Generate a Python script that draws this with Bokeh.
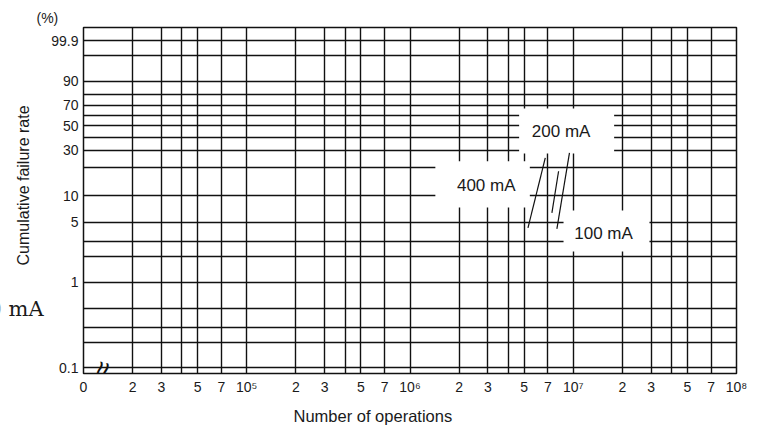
import math
from bokeh.plotting import figure
from bokeh.layouts import row
from bokeh.models import FixedTicker, Label, Title, ColumnDataSource
from bokeh.core.properties import value
from bokeh.embed import file_html
from bokeh.resources import INLINE

SANS = "Liberation Sans"
SERIF = "DejaVu Serif"
INK = "#111111"
TXT = "#1a1a1a"

# ---------------- data ----------------
x_ticks = [1e4, 2e4, 3e4, 4e4, 5e4, 7e4,
           1e5, 2e5, 3e5, 4e5, 5e5, 7e5,
           1e6, 2e6, 3e6, 4e6, 5e6, 7e6,
           1e7, 2e7, 3e7, 4e7, 5e7, 7e7,
           1e8]
x_labels = ["0", "2", "3", "", "5", "7",
            "10\u2075", "2", "3", "", "5", "7",
            "10\u2076", "2", "3", "", "5", "7",
            "10\u2077", "2", "3", "", "5", "7",
            "10\u2078"]

y_ticks_pct = [0.1, 0.2, 0.3, 0.5, 1, 2, 3, 5, 10, 20, 30, 40, 50, 60, 70, 80, 90, 99, 99.9]
y_labels = ["0.1", "", "", "", "1", "", "", "5", "10", "", "30", "", "50", "", "70", "", "90", "", "99.9"]
y_range_pct = [0.0858, 99.995]

# failure curves (number of operations, cumulative failure rate %)
ops_400mA = [5.28e6, 6.74e6]
rate_400mA = [4.3, 25.3]
ops_200mA = [7.40e6, 8.13e6]
rate_200mA = [6.4, 18.4]
ops_100mA = [7.94e6, 9.48e6]
rate_100mA = [4.2, 28.4]

# curve labels and their boxes
label_text = ["400 mA", "200 mA", "100 mA"]
label_ops = [2.93e6, 8.43e6, 1.533e7]
label_rate = [12.9, 45.0, 3.74]
box_ops_left = [1.43e6, 4.66e6, 8.72e6]
box_ops_right = [5.42e6, 1.78e7, 2.93e7]
box_rate_top = [23.4, 67.0, 6.8]
box_rate_bottom = [7.33, 28.0, 2.3]

# axis break mark position
break_ops = 1.3e4
break_rate = 0.095

# stray text fragment at the page's left edge
stray_text = "0 mA"


def weib(pct):
    """Weibull probability scale: ln(-ln(1-F))."""
    return math.log(-math.log(1.0 - pct / 100.0))


y_ticks = [weib(v) for v in y_ticks_pct]

# ---------------- main figure ----------------
p = figure(width=758, height=431,
           x_axis_type="log", x_range=(x_ticks[0], x_ticks[-1]),
           y_range=(weib(y_range_pct[0]), weib(y_range_pct[1])),
           output_backend="svg", toolbar_location=None,
           min_border_left=82, min_border_right=22,
           min_border_top=27, min_border_bottom=56)
p.background_fill_color = "white"
p.border_fill_color = "white"
p.border_fill_alpha = 0.0
p.outline_line_color = INK
p.outline_line_width = 1.5

p.xaxis.ticker = FixedTicker(ticks=x_ticks)
p.xaxis.major_label_overrides = dict(zip(x_ticks, x_labels))
p.yaxis.ticker = FixedTicker(ticks=y_ticks)
p.yaxis.major_label_overrides = dict(zip(y_ticks, y_labels))

for ax in (p.xaxis[0], p.yaxis[0]):
    ax.axis_line_color = None
    ax.major_tick_line_color = None
    ax.minor_tick_line_color = None
    ax.major_tick_out = 0
    ax.major_tick_in = 0
    ax.minor_tick_out = 0
    ax.minor_tick_in = 0
    ax.major_label_text_font = SANS
    ax.major_label_text_font_size = "14px"
    ax.major_label_text_color = TXT
    ax.major_label_standoff = 5

p.grid.grid_line_color = INK
p.grid.grid_line_width = 1.4
p.grid.grid_line_alpha = 1.0

# white boxes behind the curve labels
boxes = ColumnDataSource(dict(
    left=box_ops_left, right=box_ops_right,
    top=[weib(v) for v in box_rate_top],
    bottom=[weib(v) for v in box_rate_bottom]))
p.quad(left="left", right="right", top="top", bottom="bottom", source=boxes,
       fill_color="white", line_color=None)

# failure curves
for ops, rate in ((ops_400mA, rate_400mA), (ops_200mA, rate_200mA), (ops_100mA, rate_100mA)):
    p.line(ops, [weib(v) for v in rate], line_color=INK, line_width=1.2)

# curve labels
labels = ColumnDataSource(dict(x=label_ops, y=[weib(v) for v in label_rate], t=label_text))
p.text(x="x", y="y", text="t", source=labels, text_align="center", text_baseline="middle",
       text_font=value(SANS), text_font_size="17px", text_color=TXT)

# axis break mark
p.add_layout(Label(x=break_ops, y=weib(break_rate), text="\u2248", angle=math.pi / 2 - 0.25,
                   text_align="center", text_baseline="middle",
                   text_font=SANS, text_font_size="30px", text_color=INK))

# titles outside the frame
p.add_layout(Title(text="(%)", align="left", offset=-47, vertical_align="bottom", standoff=4,
                   text_font=SANS, text_font_size="14px", text_font_style="normal",
                   text_color=TXT), "above")
p.add_layout(Title(text="Number of operations", align="left", offset=210,
                   vertical_align="bottom", standoff=14,
                   text_font=SANS, text_font_size="16.5px", text_font_style="normal",
                   text_color=TXT), "below")
p.add_layout(Title(text="Cumulative failure rate", align="left", offset=108,
                   vertical_align="top", standoff=29,
                   text_font=SANS, text_font_size="16px", text_font_style="normal",
                   text_color=TXT), "left")

# ---------------- underlay strip for the stray text at the left edge ----------------
f2 = figure(width=60, height=431, x_range=(0, 60), y_range=(0, 431),
            output_backend="svg", toolbar_location=None,
            x_axis_location=None, y_axis_location=None, min_border=0)
f2.grid.visible = False
f2.outline_line_color = None
f2.background_fill_alpha = 0.0
f2.border_fill_alpha = 0.0
f2.text(x=[-12], y=[80], text=[stray_text], text_align="left", text_baseline="alphabetic",
        text_font=value(SERIF), text_font_size="21px", text_color=TXT)

p.margin = (0, 0, 0, -60)
layout = row(f2, p)

open("out.html", "w").write(file_html(layout, INLINE))
